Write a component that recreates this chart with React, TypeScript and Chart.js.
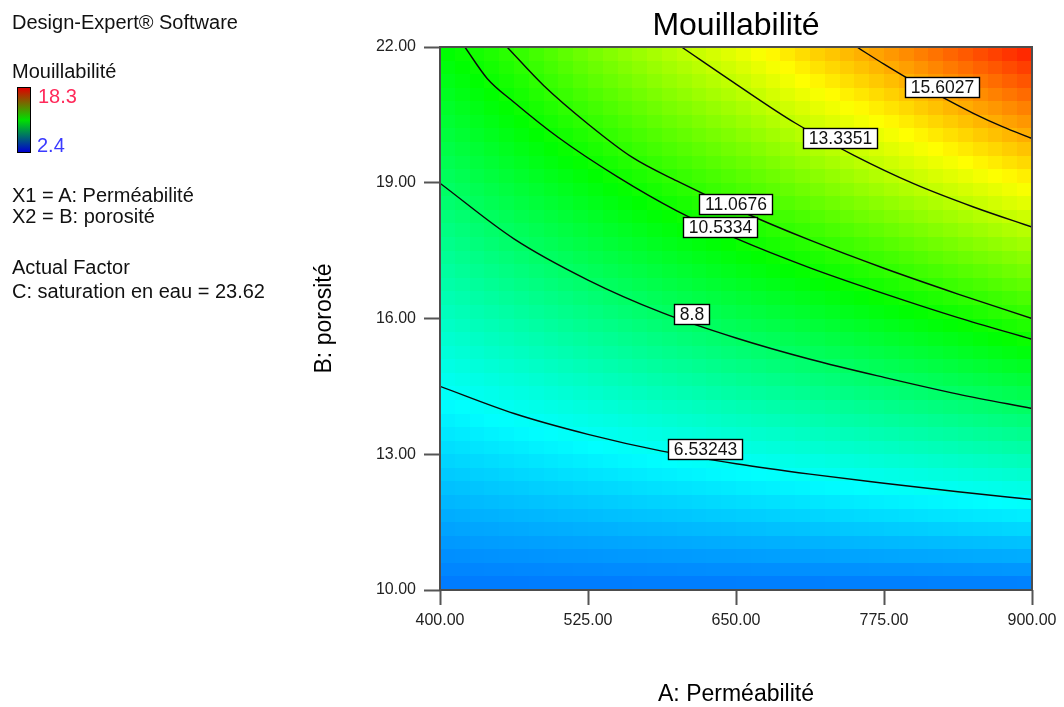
import React, { useEffect, useRef } from "react";
import { Chart, registerables } from "chart.js";

Chart.register(...registerables);

const FONT = '"Liberation Sans", Arial, sans-serif';

// ---- texts ----
const chartTitle = "Mouillabilité";
const xAxisTitle = "A: Perméabilité";
const yAxisTitle = "B: porosité";
const panelLines = [
  "Design-Expert® Software",
  "Mouillabilité",
  "X1 = A: Perméabilité",
  "X2 = B: porosité",
  "Actual Factor",
  "C: saturation en eau = 23.62",
];
const legendMax = 18.3;
const legendMin = 2.4;

// ---- axes ----
const xTicks = [400, 525, 650, 775, 900];
const yTicks = [10, 13, 16, 19, 22];

// ---- response surface (rows = porosité, cols = perméabilité) ----
const gridA = [400, 462.5, 525, 587.5, 650, 712.5, 775, 837.5, 900];
const gridB = [10, 11.5, 13, 14.5, 16, 17.5, 19, 20.5, 22];
const rowB10 = [4.25, 4.25, 4.25, 4.25, 4.25, 4.25, 4.25, 4.25, 4.25];
const rowB11_5 = [5.01, 5.13, 5.25, 5.36, 5.47, 5.59, 5.71, 5.83, 5.95];
const rowB13 = [5.77, 6.0, 6.25, 6.48, 6.7, 6.93, 7.16, 7.4, 7.65];
const rowB14_5 = [6.53, 6.88, 7.24, 7.59, 7.93, 8.26, 8.61, 8.97, 9.35];
const rowB16 = [7.29, 7.76, 8.23, 8.7, 9.14, 9.57, 10.02, 10.5, 11.07];
const rowB17_5 = [8.05, 8.65, 9.22, 9.78, 10.32, 10.86, 11.48, 12.13, 12.75];
const rowB19 = [8.8, 9.51, 10.18, 10.89, 11.55, 12.29, 13.05, 13.77, 14.48];
const rowB20_5 = [9.56, 10.37, 11.21, 12.04, 12.8, 13.71, 14.52, 15.37, 16.2];
const rowB22 = [10.32, 11.15, 12.23, 13.16, 14.04, 15.09, 15.97, 16.97, 17.93];
const gridRows = [rowB10, rowB11_5, rowB13, rowB14_5, rowB16, rowB17_5, rowB19, rowB20_5, rowB22];

// ---- contour lines ----
const contourLabels = ["6.53243", "8.8", "10.5334", "11.0676", "13.3351", "15.6027"];
const c1A = [400, 462.5, 525, 587.5, 650, 712.5, 775, 837.5, 900];
const c1B = [14.5, 13.9, 13.44, 13.07, 12.79, 12.56, 12.36, 12.17, 12.0];
const c2A = [400, 462.5, 525, 587.5, 650, 712.5, 775, 837.5, 900];
const c2B = [18.99, 17.76, 16.85, 16.13, 15.57, 15.1, 14.7, 14.33, 14.01];
const c3A = [421, 440, 462.5, 500, 550, 600, 650, 712.5, 775, 837.5, 900];
const c3B = [22, 21.3, 20.78, 20.0, 19.13, 18.38, 17.77, 17.12, 16.55, 16.02, 15.54];
const c4A = [456.6, 487.5, 525, 562.5, 600, 650, 712.5, 775, 837.5, 900];
const c4B = [22, 21.15, 20.3, 19.56, 19.04, 18.42, 17.73, 17.11, 16.54, 16.0];
const c5A = [604, 650, 700, 750, 800, 850, 900];
const c5B = [22, 21.18, 20.32, 19.6, 18.98, 18.47, 18.02];
const c6A = [752, 775, 800, 825, 850, 875, 900];
const c6B = [22, 21.62, 21.23, 20.88, 20.54, 20.24, 19.98];
const contourA = [c1A, c2A, c3A, c4A, c5A, c6A];
const contourB = [c1B, c2B, c3B, c4B, c5B, c6B];
// where each label box sits (A, B)
const labelA = [624.2, 612, 636.5, 649.2, 737.8, 824];
const labelB = [13.12, 16.1, 18.02, 18.53, 20.0, 21.12];

function colorFor(v: number): string {
  let t = (v - legendMin) / (legendMax - legendMin);
  t = Math.max(0, Math.min(1, t));
  let r = 0, g = 0, b = 0;
  if (t < 0.25) { r = 0; g = 255 * t * 4; b = 255; }
  else if (t < 0.5) { r = 0; g = 255; b = 255 * (1 - (t - 0.25) * 4); }
  else if (t < 0.75) { r = 255 * (t - 0.5) * 4; g = 255; b = 0; }
  else { r = 255; g = 255 * (1 - (t - 0.75) * 4); b = 0; }
  return `rgb(${Math.round(r)},${Math.round(g)},${Math.round(b)})`;
}

function findIdx(arr: number[], v: number): [number, number] {
  let i = 0;
  while (i < arr.length - 2 && v > arr[i + 1]) i++;
  const f = (v - arr[i]) / (arr[i + 1] - arr[i]);
  return [i, Math.max(0, Math.min(1, f))];
}

function surface(a: number, b: number): number {
  const [i, fa] = findIdx(gridA, a);
  const [j, fb] = findIdx(gridB, b);
  const v00 = gridRows[j][i], v10 = gridRows[j][i + 1];
  const v01 = gridRows[j + 1][i], v11 = gridRows[j + 1][i + 1];
  return (v00 * (1 - fa) + v10 * fa) * (1 - fb) + (v01 * (1 - fa) + v11 * fa) * fb;
}

const heatmapPlugin = {
  id: "heatmap",
  beforeDatasetsDraw(chart: any) {
    const { ctx, chartArea, scales } = chart;
    const x = scales.x, y = scales.y;
    const nx = 40, ny = 40;
    ctx.save();
    ctx.beginPath();
    ctx.rect(chartArea.left, chartArea.top, chartArea.width, chartArea.height);
    ctx.clip();
    for (let i = 0; i < nx; i++) {
      const a0 = x.min + ((x.max - x.min) * i) / nx;
      const a1 = x.min + ((x.max - x.min) * (i + 1)) / nx;
      const px0 = Math.round(x.getPixelForValue(a0));
      const px1 = Math.round(x.getPixelForValue(a1));
      for (let j = 0; j < ny; j++) {
        const b0 = y.min + ((y.max - y.min) * j) / ny;
        const b1 = y.min + ((y.max - y.min) * (j + 1)) / ny;
        const py0 = Math.round(y.getPixelForValue(b1));
        const py1 = Math.round(y.getPixelForValue(b0));
        ctx.fillStyle = colorFor(surface((a0 + a1) / 2, (b0 + b1) / 2));
        ctx.fillRect(px0, py0, px1 - px0, py1 - py0);
      }
    }
    ctx.restore();
  },
};

const overlayPlugin = {
  id: "overlay",
  afterDatasetsDraw(chart: any) {
    const { ctx, chartArea: ca, scales } = chart;
    const x = scales.x, y = scales.y;
    ctx.save();
    ctx.font = `17.5px ${FONT}`;
    ctx.textAlign = "center";
    ctx.textBaseline = "middle";
    contourLabels.forEach((txt, k) => {
      const cx = x.getPixelForValue(labelA[k]);
      const cy = y.getPixelForValue(labelB[k]);
      const w = Math.round(ctx.measureText(txt).width + 11);
      const h = 20;
      const l = Math.round(cx - w / 2) + 0.5;
      const t = Math.round(cy - h / 2) + 0.5;
      ctx.fillStyle = "#ffffff";
      ctx.fillRect(l, t, w, h);
      ctx.strokeStyle = "#000000";
      ctx.lineWidth = 1.4;
      ctx.strokeRect(l, t, w, h);
      ctx.fillStyle = "#111111";
      ctx.fillText(txt, l + w / 2, t + h / 2 + 1);
    });
    ctx.strokeStyle = "#4d4d4d";
    ctx.lineWidth = 2;
    ctx.strokeRect(ca.left, ca.top, ca.right - ca.left, ca.bottom - ca.top);
    ctx.restore();
  },
};

export default function App() {
  const canvasRef = useRef<HTMLCanvasElement | null>(null);

  useEffect(() => {
    if (!canvasRef.current) return;
    const datasets = contourLabels.map((lab, k) => ({
      label: lab,
      data: contourA[k].map((a, i) => ({ x: a, y: contourB[k][i] })),
      showLine: true,
      borderColor: "#0a0a0a",
      borderWidth: 1.4,
      pointRadius: 0,
      cubicInterpolationMode: "monotone",
      fill: false,
    }));
    const chart = new Chart(canvasRef.current, {
      type: "scatter",
      data: { datasets },
      plugins: [heatmapPlugin, overlayPlugin],
      options: {
        responsive: false,
        animation: false,
        devicePixelRatio: 1,
        events: [],
        layout: { padding: { left: 311, right: 32, top: 0, bottom: 0 } },
        plugins: {
          legend: { display: false },
          tooltip: { enabled: false },
          title: {
            display: true,
            text: chartTitle,
            fullSize: false,
            color: "#000000",
            font: { family: FONT, size: 32, weight: "normal", lineHeight: 1.2 },
            padding: { top: 7, bottom: 1.6 },
          },
        },
        scales: {
          x: {
            type: "linear",
            min: 400,
            max: 900,
            afterBuildTicks: (s: any) => { s.ticks = xTicks.map((value) => ({ value })); },
            afterFit: (s: any) => { s.height = 117; },
            grid: { drawOnChartArea: false, drawTicks: true, tickLength: 15, tickColor: "#555555", tickWidth: 2, color: "#555555" },
            border: { display: false },
            ticks: {
              padding: 6,
              color: "#222222",
              autoSkip: false,
              maxRotation: 0,
              font: { family: FONT, size: 16 },
              callback: (v: any) => Number(v).toFixed(2),
            },
            title: {
              display: true,
              text: xAxisTitle,
              color: "#000000",
              font: { family: FONT, size: 23, lineHeight: 1 },
              padding: { top: 0, bottom: 0.5 },
            },
          },
          y: {
            type: "linear",
            min: 10,
            max: 22,
            afterBuildTicks: (s: any) => { s.ticks = yTicks.map((value) => ({ value })); },
            afterFit: (s: any) => { s.width = 129; },
            grid: { drawOnChartArea: false, drawTicks: true, tickLength: 16, tickColor: "#555555", tickWidth: 2, color: "#555555" },
            border: { display: false },
            ticks: {
              padding: 8,
              color: "#222222",
              autoSkip: false,
              font: { family: FONT, size: 16 },
              callback: (v: any) => Number(v).toFixed(2),
            },
            title: {
              display: true,
              text: yAxisTitle,
              color: "#000000",
              font: { family: FONT, size: 23, lineHeight: 1 },
              padding: { top: 2.5, bottom: 0 },
            },
          },
        },
      } as any,
    });
    return () => chart.destroy();
  }, []);

  const textStyle = (top: number, left = 12, color = "#111111"): React.CSSProperties => ({
    position: "absolute",
    left,
    top,
    fontFamily: FONT,
    fontSize: 20,
    lineHeight: "20px",
    whiteSpace: "nowrap",
    color,
  });

  return (
    <div style={{ position: "fixed", left: 0, top: 0, width: 1064, height: 707, background: "#ffffff" }}>
      <canvas ref={canvasRef} width={1064} height={707} style={{ display: "block", position: "absolute", left: 0, top: 0 }} />
      <div style={textStyle(12.3)}>{panelLines[0]}</div>
      <div style={textStyle(61.3)}>{panelLines[1]}</div>
      <div
        style={{
          position: "absolute",
          left: 17,
          top: 87,
          width: 12,
          height: 64,
          border: "1.5px solid #000",
          background: "linear-gradient(to bottom, #e00000, #00e000, #0000d0)",
        }}
      />
      <div style={textStyle(85.7, 38, "#ff2a5a")}>{String(legendMax)}</div>
      <div style={textStyle(135, 37, "#3a3aff")}>{String(legendMin)}</div>
      <div style={textStyle(185)}>{panelLines[2]}</div>
      <div style={textStyle(206)}>{panelLines[3]}</div>
      <div style={textStyle(257)}>{panelLines[4]}</div>
      <div style={textStyle(281)}>{panelLines[5]}</div>
    </div>
  );
}
